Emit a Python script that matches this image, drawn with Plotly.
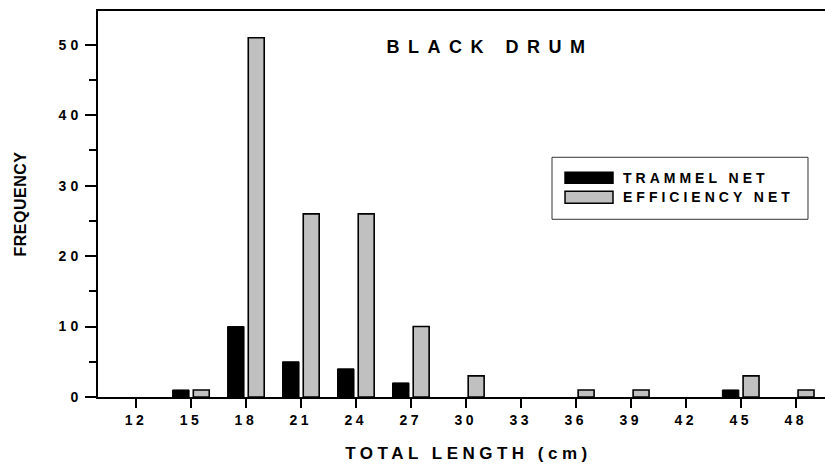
import plotly.graph_objects as go

lengths = [12, 15, 18, 21, 24, 27, 30, 33, 36, 39, 42, 45, 48]
trammel = [0, 1, 10, 5, 4, 2, 0, 0, 0, 0, 0, 1, 0]
efficiency = [0, 1, 51, 26, 26, 10, 3, 0, 1, 1, 0, 3, 1]
y_ticks = [0, 10, 20, 30, 40, 50]

FONT = "Liberation Sans, Arial, sans-serif"


def nz(vals):
    # zero counts are drawn as no bar at all
    return [v if v else None for v in vals]


fig = go.Figure()
fig.add_trace(go.Bar(
    x=lengths, y=nz(trammel), name="TRAMMEL NET",
    marker=dict(color="black", line=dict(color="black", width=1)),
    width=0.9, offset=-1.0, showlegend=False,
))
fig.add_trace(go.Bar(
    x=lengths, y=nz(efficiency), name="EFFICIENCY NET",
    marker=dict(color="#c0c0c0", line=dict(color="black", width=1.6)),
    width=0.87, offset=0.13, showlegend=False,
))

LEG_SP = 4
shapes = [
    dict(type="rect", xref="paper", yref="paper", x0=0.6245, x1=0.9766, y0=0.4604, y1=0.621,
         line=dict(color="#333", width=1), fillcolor="white", layer="above"),
    dict(type="rect", xref="paper", yref="paper", x0=0.6424, x1=0.7084, y0=0.5536, y1=0.5821,
         line=dict(color="black", width=1.5), fillcolor="black", layer="above"),
    dict(type="rect", xref="paper", yref="paper", x0=0.6424, x1=0.7084, y0=0.5018, y1=0.5329,
         line=dict(color="black", width=1.5), fillcolor="#c0c0c0", layer="above"),
]
leg_names = ["TRAMMEL NET", "EFFICIENCY NET"]
leg_y = [0.5679, 0.5174]
annotations = [
    dict(text="BLACK DRUM", xref="paper", yref="paper", x=0.535, y=0.906, showarrow=False,
         xanchor="center", yanchor="middle", xshift=3,
         font=dict(family=FONT, size=18, color="black", weight="bold")),
]
for name, yy in zip(leg_names, leg_y):
    annotations.append(dict(
        text=name, xref="paper", yref="paper", x=0.7221, y=yy, showarrow=False,
        xanchor="left", yanchor="middle", xshift=len(name) * LEG_SP / 2 - 2,
        font=dict(family=FONT, size=14, color="black", weight="bold")))

fig.update_layout(
    width=825, height=466,
    margin=dict(l=98, r=0, t=11, b=69),
    plot_bgcolor="white", paper_bgcolor="white",
    barmode="overlay",
    shapes=shapes, annotations=annotations,
    font=dict(family=FONT, color="black"),
)
fig.update_xaxes(
    range=[9.93, 49.6], tickvals=lengths, ticktext=[str(v) for v in lengths],
    showgrid=False, zeroline=False,
    showline=True, linecolor="black", linewidth=2, mirror=True,
    ticks="outside", ticklen=9, tickwidth=2, tickcolor="black",
    tickfont=dict(family=FONT, size=14, color="black", weight="bold"),
    title=dict(text="TOTAL LENGTH (cm)", standoff=20,
               font=dict(family=FONT, size=17, color="black", weight="bold")),
)
fig.update_yaxes(
    range=[0, 54.8], tickvals=y_ticks,
    showgrid=False, zeroline=False,
    showline=True, linecolor="black", linewidth=2,
    ticks="outside", ticklen=11, tickwidth=2, tickcolor="black",
    minor=dict(dtick=5, ticks="outside", ticklen=7, tickwidth=2, tickcolor="black"),
    tickfont=dict(family=FONT, size=14, color="black", weight="bold"),
    title=dict(text="FREQUENCY", standoff=36,
               font=dict(family=FONT, size=16, color="black", weight="bold")),
)

post = """
var gd = document.getElementById('{plot_id}');
function sp(sel, v){ gd.querySelectorAll(sel).forEach(function(t){ t.style.letterSpacing = v; }); }
sp('.xtick text', '3.5px');
sp('.ytick text', '4px');
sp('.g-xtitle text', '4.5px');
sp('.g-ytitle text', '0.5px');
sp('.annotation-text', '4px');
var a = gd.querySelectorAll('.annotation-text');
if (a.length) a[0].style.letterSpacing = '8.5px';
gd.querySelectorAll('.g-xtitle text').forEach(function(t){
  var x = parseFloat(t.getAttribute('x')); t.setAttribute('x', x + 7);
});
"""
fig.write_html("out.html", post_script=post)
